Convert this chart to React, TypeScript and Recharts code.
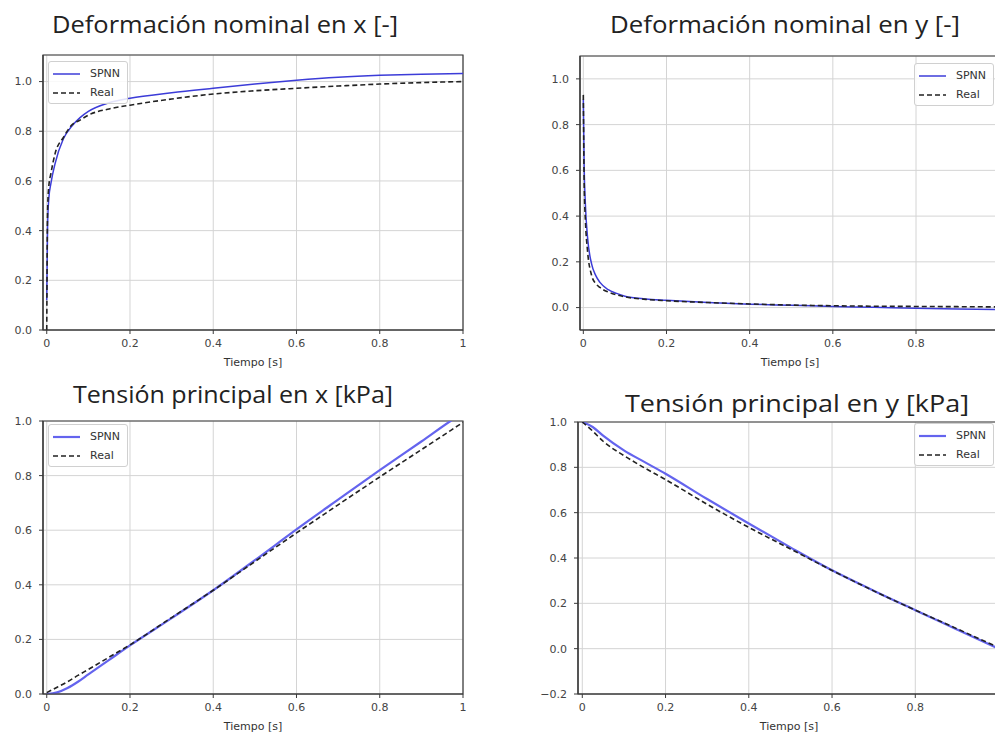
import { CartesianGrid, Legend, Line, LineChart, ReferenceArea, XAxis, YAxis } from 'recharts';

// Deformación nominal en x
const T_EX = [0, 0.002, 0.005, 0.01, 0.02, 0.04, 0.06, 0.08, 0.1, 0.15, 0.2, 0.3, 0.4, 0.5, 0.6, 0.7, 0.8, 0.9, 1.0];
const SPNN_EX = [0.12, 0.42, 0.53, 0.59, 0.67, 0.77, 0.82, 0.855, 0.88, 0.915, 0.933, 0.955, 0.973, 0.99, 1.005, 1.017, 1.025, 1.03, 1.033];
const REAL_EX = [0.0, 0.48, 0.58, 0.63, 0.71, 0.775, 0.825, 0.845, 0.865, 0.89, 0.905, 0.93, 0.95, 0.963, 0.973, 0.982, 0.99, 0.996, 1.0];

// Deformación nominal en y
const T_EY = [0, 0.002, 0.005, 0.01, 0.02, 0.03, 0.04, 0.06, 0.08, 0.1, 0.15, 0.2, 0.3, 0.4, 0.5, 0.6, 0.7, 0.8, 0.9, 1.0];
const SPNN_EY = [0.91, 0.62, 0.45, 0.31, 0.19, 0.14, 0.11, 0.078, 0.062, 0.05, 0.038, 0.032, 0.022, 0.015, 0.01, 0.005, 0.001, -0.003, -0.006, -0.009];
const REAL_EY = [0.93, 0.55, 0.38, 0.25, 0.14, 0.105, 0.088, 0.068, 0.056, 0.047, 0.036, 0.03, 0.022, 0.016, 0.011, 0.008, 0.006, 0.005, 0.004, 0.003];

// Tensión principal en x
const T_SX = [0, 0.025, 0.05, 0.075, 0.1, 0.15, 0.2, 0.3, 0.4, 0.5, 0.6, 0.7, 0.8, 0.9, 0.97, 1.0];
const SPNN_SX = [0.0, 0.006, 0.022, 0.045, 0.072, 0.125, 0.178, 0.278, 0.38, 0.49, 0.603, 0.712, 0.82, 0.925, 1.0, 1.03];
const REAL_SX = [0.005, 0.025, 0.045, 0.068, 0.09, 0.135, 0.18, 0.28, 0.38, 0.485, 0.59, 0.693, 0.795, 0.895, 0.965, 0.995];

// Tensión principal en y
const T_SY = [0, 0.025, 0.05, 0.1, 0.15, 0.2, 0.3, 0.4, 0.5, 0.6, 0.7, 0.8, 0.9, 1.0];
const SPNN_SY = [1.0, 0.978, 0.94, 0.875, 0.823, 0.772, 0.66, 0.552, 0.447, 0.346, 0.256, 0.17, 0.085, 0.0];
const REAL_SY = [1.0, 0.96, 0.915, 0.852, 0.797, 0.746, 0.637, 0.535, 0.44, 0.345, 0.255, 0.17, 0.088, 0.005];

const X_TICKS = [0, 0.2, 0.4, 0.6, 0.8, 1];
const X_TICKS_CUT = [0, 0.2, 0.4, 0.6, 0.8];
const Y_TICKS_A = [0, 0.2, 0.4, 0.6, 0.8, 1.0];
const Y_TICKS_B = [-0.2, 0, 0.2, 0.4, 0.6, 0.8, 1.0];

const TITLES = [
  'Deformación nominal en x [-]',
  'Deformación nominal en y [-]',
  'Tensión principal en x [kPa]',
  'Tensión principal en y [kPa]',
];

const AX = '#3a3a3a';
const GRID = '#d4d4d4';
const TICK = { fill: '#444', fontSize: 11, fontFamily: 'DejaVu Sans' };

type Pt = { t: number; v: number };
const zip = (t: number[], v: number[]): Pt[] => t.map((x, i) => ({ t: x, v: v[i] }));

const fmtX = (v: number) => (v === 0 ? '0' : v === 1 ? '1' : v.toFixed(1));
const fmtY = (v: number) => (v < 0 ? '\u2212' : '') + Math.abs(v).toFixed(1);

interface PanelProps {
  plotLeft: number;
  plotTop: number;
  plotW: number;
  plotH: number;
  xDomain: [number, number];
  yDomain: [number, number];
  xTicks: number[];
  yTicks: number[];
  spnn: Pt[];
  real: Pt[];
  legendX: number;
  legendY: number;
  blue: string;
  blueWidth: number;
}

function LegendBox({ blue, blueWidth }: { blue: string; blueWidth: number }) {
  const row = (label: string, stroke: string, width: number, dash?: string) => (
    <div style={{ display: 'flex', alignItems: 'center', height: 19 }}>
      <svg width={36} height={10} style={{ marginLeft: 3 }}>
        <line x1={1} y1={5} x2={28} y2={5} stroke={stroke} strokeWidth={width} strokeDasharray={dash} />
      </svg>
      <span style={{ marginLeft: 2 }}>{label}</span>
    </div>
  );
  return (
    <div
      style={{
        width: 80,
        height: 43,
        boxSizing: 'border-box',
        paddingTop: 2,
        background: 'rgba(255,255,255,0.85)',
        border: '1px solid #d0d0d0',
        borderRadius: 3,
        fontFamily: 'DejaVu Sans',
        fontSize: 11,
        color: '#333',
      }}
    >
      {row('SPNN', blue, blueWidth)}
      {row('Real', '#222', 1.6, '5 3')}
    </div>
  );
}

function Panel(p: PanelProps) {
  const chartLeft = p.plotLeft - 40;
  const chartTop = p.plotTop - 10;
  const w = p.plotW + 50;
  const h = p.plotH + 10 + 38;
  return (
    <div style={{ position: 'absolute', left: chartLeft, top: chartTop }}>
      <LineChart width={w} height={h} margin={{ top: 10, right: 10, left: 10, bottom: 0 }}>
        <CartesianGrid stroke={GRID} strokeWidth={1} />
        <XAxis
          type="number"
          dataKey="t"
          domain={p.xDomain}
          ticks={p.xTicks}
          allowDataOverflow
          tickFormatter={fmtX}
          tick={TICK}
          tickSize={4}
          tickMargin={5}
          height={38}
          stroke={AX}
          axisLine={{ stroke: AX, strokeWidth: 1.2 }}
          label={{ value: 'Tiempo [s]', position: 'insideBottom', offset: 2, fill: '#333', fontSize: 11, fontFamily: 'DejaVu Sans' }}
        />
        <YAxis
          type="number"
          domain={p.yDomain}
          ticks={p.yTicks}
          allowDataOverflow
          tickFormatter={fmtY}
          tick={TICK}
          tickSize={4}
          tickMargin={7}
          width={30}
          stroke={AX}
          axisLine={{ stroke: AX, strokeWidth: 1.2 }}
        />
        <Legend
          layout="horizontal"
          verticalAlign="middle"
          align="center"
          wrapperStyle={{ left: p.legendX - chartLeft, top: p.legendY - chartTop, width: 80, height: 43 }}
          content={() => <LegendBox blue={p.blue} blueWidth={p.blueWidth} />}
        />
        <Line
          data={p.spnn}
          dataKey="v"
          name="SPNN"
          type="monotone"
          stroke={p.blue}
          strokeWidth={p.blueWidth}
          dot={false}
          isAnimationActive={false}
        />
        <Line
          data={p.real}
          dataKey="v"
          name="Real"
          type="monotone"
          stroke="#222"
          strokeWidth={1.6}
          strokeDasharray="5 3"
          dot={false}
          isAnimationActive={false}
        />
        <ReferenceArea
          x1={p.xDomain[0]}
          x2={p.xDomain[1]}
          y1={p.yDomain[0]}
          y2={p.yDomain[1]}
          fill="none"
          fillOpacity={0}
          stroke={AX}
          strokeWidth={1.2}
          ifOverflow="visible"
        />
      </LineChart>
    </div>
  );
}

export default function App() {
  return (
    <div style={{ position: 'absolute', left: 0, top: 0, width: 995, height: 735, overflow: 'hidden', background: '#fff' }}>
      <Panel
        plotLeft={43}
        plotTop={55}
        plotW={420}
        plotH={275}
        xDomain={[-0.009, 1]}
        yDomain={[0, 1.107]}
        xTicks={X_TICKS}
        yTicks={Y_TICKS_A}
        spnn={zip(T_EX, SPNN_EX)}
        real={zip(T_EX, REAL_EX)}
        legendX={48}
        legendY={61}
        blue="#3c3cd8"
        blueWidth={1.5}
      />
      <Panel
        plotLeft={580}
        plotTop={56}
        plotW={420}
        plotH={274}
        xDomain={[-0.008, 1.002]}
        yDomain={[-0.098, 1.1]}
        xTicks={X_TICKS_CUT}
        yTicks={Y_TICKS_A}
        spnn={zip(T_EY, SPNN_EY)}
        real={zip(T_EY, REAL_EY)}
        legendX={914}
        legendY={63}
        blue="#3c3cd8"
        blueWidth={1.5}
      />
      <Panel
        plotLeft={43}
        plotTop={421}
        plotW={420}
        plotH={273}
        xDomain={[-0.009, 1]}
        yDomain={[0, 1]}
        xTicks={X_TICKS}
        yTicks={Y_TICKS_A}
        spnn={zip(T_SX, SPNN_SX)}
        real={zip(T_SX, REAL_SX)}
        legendX={48}
        legendY={424}
        blue="#6464ee"
        blueWidth={2.2}
      />
      <Panel
        plotLeft={578}
        plotTop={422}
        plotW={422}
        plotH={272}
        xDomain={[-0.0103, 1.0035]}
        yDomain={[-0.2, 1]}
        xTicks={X_TICKS_CUT}
        yTicks={Y_TICKS_B}
        spnn={zip(T_SY, SPNN_SY)}
        real={zip(T_SY, REAL_SY)}
        legendX={914}
        legendY={423}
        blue="#6464ee"
        blueWidth={2.2}
      />
      <svg width={995} height={735} style={{ position: 'absolute', left: 0, top: 0, pointerEvents: 'none' }}>
        <g fontFamily="Open Sans" fontSize={24} fill="#222">
          <text x={52} y={33} textLength={346} lengthAdjust="spacingAndGlyphs">{TITLES[0]}</text>
          <text x={610} y={33} textLength={350} lengthAdjust="spacingAndGlyphs">{TITLES[1]}</text>
          <text x={73} y={403} textLength={320} lengthAdjust="spacingAndGlyphs">{TITLES[2]}</text>
          <text x={625} y={412} textLength={344} lengthAdjust="spacingAndGlyphs">{TITLES[3]}</text>
        </g>
      </svg>
    </div>
  );
}
